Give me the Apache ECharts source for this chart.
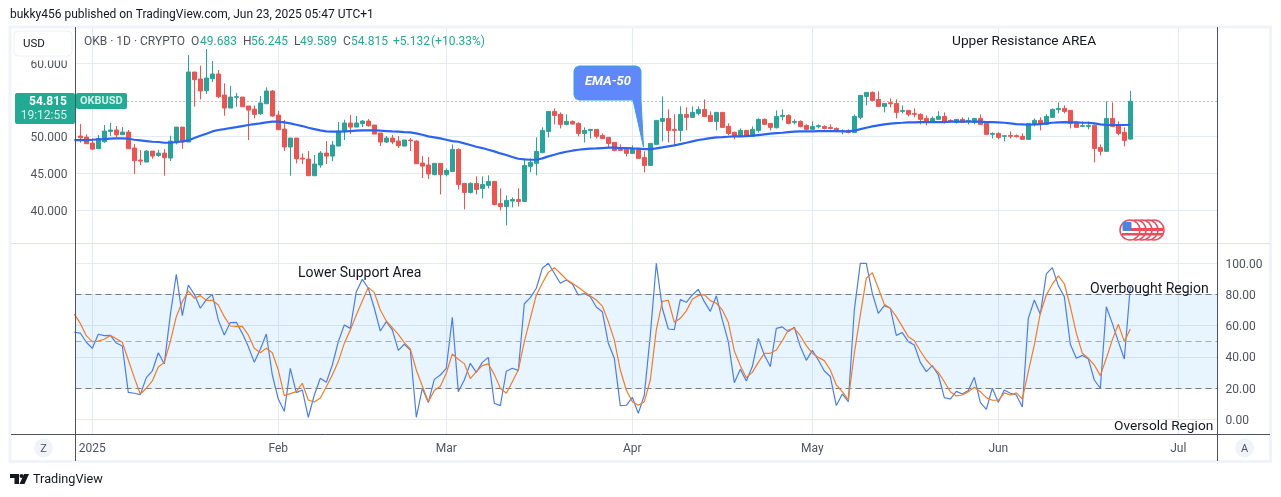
<!DOCTYPE html>
<html>
<head>
<meta charset="utf-8">
<title>OKBUSD</title>
<script src="https://cdn.jsdelivr.net/npm/echarts@6/dist/echarts.min.js"></script>
<style>
html, body { margin: 0; padding: 0; background: #fff; overflow: hidden; }
#main { width: 1281px; height: 497px; }
</style>
</head>
<body>
<div id="main"></div>
<script>
// days are counted from Jan 1 2025, candles start on Dec 30 (-2)
var firstCandleDay = -2;
var firstLineDay = -3;

var monthDays = [0, 31, 59, 90, 120, 151, 181];
var monthLabels = ['2025', 'Feb', 'Mar', 'Apr', 'May', 'Jun', 'Jul'];
var priceTicks = [40, 45, 50, 60];
var rsiTicks = [0, 20, 40, 60, 80, 100];
var lastClose = 54.815;

var opens = [
    50.09, 49.95, 49.14, 48.37, 49.32, 50.72, 50.91, 50.27, 50.63, 48.46,
    46.83, 46.56, 48.05, 47.46, 47.78, 47.10, 49.18, 51.31, 49.28, 58.79,
    57.84, 56.25, 57.88, 58.52, 55.66, 53.90, 55.35, 55.39, 54.17, 53.76,
    53.13, 54.48, 56.21, 52.94, 51.04, 48.60, 49.82, 47.10, 46.96, 44.70,
    46.15, 47.78, 47.37, 48.73, 50.68, 51.86, 51.31, 51.77, 52.13, 51.59,
    50.50, 49.28, 49.82, 49.41, 48.73, 49.55, 49.41, 46.42, 46.15, 44.88,
    46.38, 44.88, 45.29, 48.28, 43.66, 42.43, 43.66, 42.98, 43.39, 43.93,
    40.94, 40.53, 41.26, 41.48, 41.21, 45.97, 46.38, 47.87, 50.72, 53.44,
    53.04, 51.68, 52.08, 51.81, 50.45, 50.86, 51.00, 50.18, 49.91, 49.23,
    48.28, 48.28, 47.73, 48.28, 47.19, 46.10, 48.96, 52.08, 52.49, 51.00,
    50.86, 53.04, 52.63, 53.17, 53.71, 52.90, 52.08, 53.31, 51.40, 50.59,
    50.05, 50.86, 50.05, 50.86, 52.36, 51.81, 51.22, 52.76, 52.90, 51.95,
    52.08, 51.54, 51.00, 51.36, 51.40, 51.27, 51.13, 50.77, 50.86, 50.59,
    52.63, 55.48, 56.02, 55.07, 54.12, 54.62, 54.53, 53.44, 53.58, 53.17,
    53.04, 52.49, 51.95, 52.36, 52.76, 52.22, 51.95, 52.36, 52.08, 51.95,
    52.49, 51.81, 50.32, 50.45, 50.05, 50.18, 50.14, 50.05, 49.64, 51.68,
    52.22, 51.68, 52.63, 53.67, 53.85, 53.58, 51.95, 51.40, 51.40, 51.54,
    48.55, 48.01, 52.49, 51.54, 50.59, 49.683
];
var highs = [
    51.72, 50.32, 49.77, 50.23, 51.59, 51.90, 51.45, 51.31, 50.91, 49.00,
    48.19, 48.19, 48.05, 48.23, 48.32, 50.14, 51.31, 51.31, 61.10, 58.79,
    59.65, 61.91, 60.28, 59.06, 57.25, 56.89, 55.93, 55.39, 54.17, 54.26,
    55.53, 56.70, 56.34, 53.49, 52.27, 49.82, 49.82, 47.73, 48.05, 47.51,
    48.05, 49.41, 49.41, 51.99, 52.31, 52.94, 52.81, 52.27, 52.40, 51.59,
    50.50, 50.09, 50.23, 50.09, 49.55, 49.82, 49.50, 47.37, 47.24, 46.38,
    46.38, 45.70, 48.96, 48.41, 43.66, 43.79, 44.61, 44.61, 44.75, 43.93,
    42.98, 42.03, 41.76, 42.98, 47.06, 47.06, 49.91, 51.27, 53.44, 53.85,
    53.31, 53.04, 52.22, 51.95, 51.27, 51.00, 51.00, 50.45, 49.91, 49.23,
    48.96, 48.55, 48.82, 48.41, 48.01, 49.09, 52.22, 55.48, 53.71, 53.04,
    54.12, 53.99, 54.12, 54.12, 55.07, 53.44, 53.31, 53.31, 51.81, 50.72,
    51.13, 50.86, 51.40, 52.49, 52.49, 51.81, 53.58, 53.71, 53.04, 52.36,
    52.22, 51.68, 52.08, 51.68, 51.54, 51.68, 51.27, 51.00, 51.00, 53.04,
    55.62, 56.02, 56.16, 56.16, 54.53, 55.21, 55.07, 54.26, 53.58, 53.85,
    53.17, 52.90, 52.76, 53.44, 53.31, 52.36, 52.36, 52.63, 52.63, 52.49,
    53.04, 51.95, 50.59, 50.59, 50.14, 50.72, 50.32, 50.45, 51.81, 52.49,
    52.63, 53.04, 53.85, 54.67, 54.26, 53.58, 52.08, 52.08, 52.08, 51.68,
    48.96, 54.80, 54.67, 52.08, 51.27, 56.245
];
var lows = [
    49.18, 49.05, 48.19, 48.37, 49.18, 50.09, 49.91, 50.27, 48.37, 44.93,
    46.15, 46.56, 47.01, 47.24, 44.70, 46.69, 48.96, 48.37, 49.28, 54.08,
    55.07, 55.80, 57.43, 55.25, 52.85, 53.90, 54.08, 54.08, 49.55, 52.49,
    52.94, 54.48, 52.72, 50.91, 48.05, 44.70, 46.38, 46.29, 44.70, 44.70,
    45.79, 46.29, 46.69, 48.73, 49.55, 50.36, 51.31, 51.31, 51.36, 50.36,
    48.73, 49.14, 49.00, 48.46, 48.73, 48.05, 46.33, 44.38, 44.25, 44.75,
    42.16, 44.61, 45.29, 42.84, 40.12, 42.30, 42.16, 41.62, 42.98, 40.67,
    39.99, 37.95, 40.40, 40.53, 41.21, 45.15, 44.75, 47.73, 49.91, 51.68,
    51.13, 51.54, 51.68, 50.05, 49.23, 49.77, 49.77, 49.77, 48.41, 48.01,
    48.14, 47.33, 47.73, 47.06, 45.15, 46.10, 48.96, 49.37, 49.23, 48.82,
    49.37, 50.86, 52.63, 52.90, 52.76, 52.08, 50.86, 51.27, 50.18, 49.64,
    50.05, 50.05, 50.05, 50.59, 51.68, 50.86, 51.13, 52.22, 51.68, 51.68,
    51.27, 50.86, 51.00, 51.13, 51.00, 51.00, 50.59, 50.32, 50.45, 50.59,
    52.36, 54.26, 54.80, 54.12, 53.31, 53.99, 52.49, 53.17, 52.76, 52.63,
    51.68, 51.54, 51.95, 52.36, 51.81, 51.95, 51.81, 51.95, 51.68, 51.68,
    51.68, 50.32, 49.77, 49.64, 49.37, 49.77, 49.91, 49.64, 49.64, 51.40,
    50.86, 51.68, 52.63, 53.17, 53.17, 51.13, 51.27, 51.40, 51.00, 46.51,
    47.46, 48.01, 51.40, 50.18, 48.69, 49.589
];
var closes = [
    49.86, 49.05, 48.32, 49.77, 50.77, 50.91, 50.27, 50.63, 48.37, 46.74,
    46.69, 48.05, 47.37, 47.78, 47.15, 49.41, 51.31, 49.28, 58.79, 57.75,
    56.21, 57.97, 58.52, 55.44, 53.90, 55.39, 55.44, 54.08, 53.62, 53.04,
    54.58, 56.21, 52.81, 50.95, 48.60, 49.82, 47.01, 46.96, 44.70, 46.29,
    47.78, 47.37, 48.87, 50.77, 51.86, 51.31, 51.86, 52.13, 51.49, 50.36,
    49.28, 49.82, 49.28, 48.78, 49.55, 49.46, 46.33, 46.01, 44.93, 46.38,
    44.88, 45.42, 48.28, 43.52, 42.43, 43.66, 42.84, 43.52, 43.93, 40.80,
    40.53, 41.35, 41.48, 41.21, 46.10, 46.51, 48.01, 50.86, 53.44, 52.90,
    51.68, 52.08, 51.72, 50.45, 50.86, 51.00, 50.05, 49.77, 49.09, 48.14,
    48.14, 47.73, 48.28, 47.06, 46.10, 49.09, 52.22, 52.49, 50.86, 50.86,
    53.04, 52.63, 53.31, 53.71, 52.76, 52.08, 53.31, 51.27, 50.45, 50.05,
    50.86, 50.05, 51.00, 52.36, 51.68, 51.27, 52.76, 52.90, 51.81, 52.08,
    51.40, 51.00, 51.40, 51.50, 51.13, 51.13, 50.72, 50.86, 50.59, 52.76,
    55.62, 56.02, 54.94, 54.12, 54.53, 54.48, 53.31, 53.58, 53.04, 53.04,
    52.36, 51.95, 52.49, 52.76, 51.95, 52.04, 52.36, 51.95, 52.22, 52.49,
    51.68, 50.32, 50.45, 49.91, 50.14, 50.05, 50.00, 49.64, 51.81, 52.22,
    51.68, 52.76, 53.71, 53.85, 53.44, 51.81, 51.27, 51.50, 51.54, 48.41,
    48.01, 52.49, 51.40, 50.45, 49.50, 54.815
];

// EMA-50, starts one day before the first candle
var emaValues = [
    49.55, 49.55, 49.55, 49.59, 49.64, 49.68, 49.73, 49.77, 49.77, 49.73,
    49.59, 49.50, 49.41, 49.32, 49.28, 49.18, 49.18, 49.28, 49.37, 49.50,
    49.82, 50.14, 50.41, 50.72, 50.91, 51.04, 51.18, 51.31, 51.45, 51.59,
    51.72, 51.81, 51.95, 52.04, 52.04, 51.95, 51.81, 51.63, 51.45, 51.22,
    51.04, 50.86, 50.72, 50.68, 50.68, 50.72, 50.77, 50.82, 50.86, 50.86,
    50.86, 50.82, 50.77, 50.72, 50.68, 50.63, 50.59, 50.45, 50.27, 50.05,
    49.91, 49.77, 49.59, 49.41, 49.32, 49.09, 48.87, 48.64, 48.46, 48.23,
    48.01, 47.73, 47.51, 47.24, 47.01, 46.92, 46.87, 46.87, 47.06, 47.33,
    47.55, 47.78, 47.96, 48.10, 48.23, 48.32, 48.37, 48.41, 48.46, 48.51,
    48.51, 48.46, 48.46, 48.41, 48.37, 48.32, 48.32, 48.41, 48.55, 48.69,
    48.82, 49.00, 49.18, 49.37, 49.55, 49.68, 49.82, 49.91, 49.95, 50.00,
    50.05, 50.05, 50.09, 50.14, 50.23, 50.32, 50.41, 50.50, 50.54, 50.63,
    50.68, 50.72, 50.72, 50.72, 50.77, 50.77, 50.77, 50.77, 50.72, 50.72,
    50.82, 51.04, 51.22, 51.40, 51.54, 51.68, 51.77, 51.86, 51.90, 51.95,
    51.95, 51.99, 51.99, 51.99, 51.99, 51.99, 52.04, 52.04, 52.04, 52.04,
    52.04, 52.04, 51.99, 51.99, 51.95, 51.90, 51.81, 51.72, 51.68, 51.63,
    51.68, 51.72, 51.81, 51.90, 51.95, 51.99, 51.95, 51.95, 51.90, 51.90,
    51.81, 51.68, 51.59, 51.59, 51.59, 51.59, 51.63
];

var rsiValues = [
    55.8, 55.3, 49.4, 45.5, 54.5, 53.6, 53.8, 48.9, 47.0, 17.3,
    16.7, 15.8, 26.7, 31.0, 42.7, 35.5, 66.9, 93.0, 66.5, 86.1,
    80.1, 71.2, 76.7, 80.1, 63.7, 54.1, 62.0, 62.2, 55.1, 46.6,
    36.5, 44.9, 54.7, 28.4, 13.0, 5.1, 32.7, 17.1, 18.8, 1.3,
    15.6, 26.3, 23.7, 34.8, 49.8, 60.5, 58.3, 81.8, 89.7, 84.0,
    71.2, 56.6, 62.6, 57.3, 44.2, 48.1, 44.4, 1.3, 19.9, 10.7,
    25.6, 28.4, 32.7, 65.4, 17.7, 25.2, 35.9, 30.1, 36.5, 39.7,
    10.3, 8.8, 30.8, 32.7, 31.4, 74.1, 78.0, 84.0, 96.8, 100,
    93.6, 87.2, 89.3, 86.8, 79.7, 80.6, 78.6, 72.0, 69.0, 48.7,
    39.1, 8.8, 9.0, 14.1, 3.8, 15.6, 54.1, 100, 71.2, 57.9,
    57.5, 76.7, 75.0, 79.7, 83.3, 75.4, 69.2, 79.1, 63.7, 49.8,
    23.5, 32.1, 24.6, 33.8, 51.9, 41.2, 33.8, 58.3, 59.2, 56.2,
    59.0, 46.6, 37.8, 44.2, 38.0, 31.0, 27.4, 8.8, 16.2, 11.3,
    70.1, 100, 100, 80.8, 67.9, 72.9, 71.2, 53.8, 55.6, 49.8,
    47.6, 36.5, 30.6, 34.4, 28.4, 13.9, 13.0, 17.9, 16.2, 18.4,
    26.9, 10.9, 6.4, 19.9, 10.9, 18.8, 16.7, 15.6, 7.9, 64.7,
    76.5, 67.3, 93.2, 97.2, 85.7, 78.6, 48.1, 39.1, 41.0, 38.7,
    25.2, 19.9, 72.2, 61.5, 49.8, 38.7, 85.0
];

var rsiAvgValues = [
    67.5, 61.5, 53.6, 49.8, 50.2, 51.3, 53.8, 51.7, 49.4, 38.0,
    26.7, 16.2, 19.9, 24.6, 33.5, 36.5, 49.8, 65.8, 75.4, 82.3,
    77.6, 79.3, 76.3, 76.3, 73.3, 65.8, 59.8, 59.6, 59.6, 54.1,
    45.5, 42.7, 45.5, 42.7, 31.6, 15.2, 16.5, 17.7, 23.1, 12.4,
    11.1, 13.7, 20.9, 28.4, 37.0, 48.7, 57.3, 66.9, 75.9, 84.6,
    81.2, 70.1, 63.0, 58.8, 54.5, 49.1, 45.1, 31.6, 21.4, 11.3,
    18.4, 21.2, 29.5, 41.9, 38.5, 35.7, 26.1, 30.6, 34.4, 35.5,
    28.8, 19.9, 16.7, 24.1, 31.6, 49.8, 64.7, 79.7, 87.2, 94.2,
    97.2, 93.6, 89.7, 87.2, 84.6, 81.8, 79.1, 76.5, 72.6, 62.6,
    50.9, 31.6, 18.8, 11.3, 9.0, 11.3, 25.2, 57.3, 75.6, 76.3,
    62.2, 64.7, 69.5, 76.9, 79.3, 79.9, 76.1, 74.4, 70.1, 62.2,
    43.8, 34.4, 26.7, 30.1, 36.5, 42.3, 42.3, 44.4, 50.4, 57.3,
    58.3, 53.6, 47.2, 42.3, 39.7, 37.6, 31.6, 22.0, 17.7, 12.4,
    42.3, 66.9, 90.4, 94.0, 84.0, 73.7, 71.2, 65.8, 59.4, 53.0,
    50.4, 43.8, 38.0, 33.8, 30.1, 24.1, 17.7, 15.0, 15.6, 17.7,
    20.5, 17.7, 13.9, 12.2, 12.2, 16.9, 15.6, 16.9, 13.0, 30.6,
    47.7, 68.0, 79.7, 86.6, 92.0, 86.9, 72.3, 55.2, 42.3, 39.1,
    34.8, 28.0, 39.1, 50.9, 60.9, 49.8, 57.9
];

var legendTexts = [
    ['OKB · 1D · CRYPTO', 84, '#50535e'],
    ['O', 191, '#50535e'], ['49.683', 200, '#22ab94'],
    ['H', 243, '#50535e'], ['56.245', 251, '#22ab94'],
    ['L', 294, '#50535e'], ['49.589', 300, '#22ab94'],
    ['C', 343, '#50535e'], ['54.815', 351, '#22ab94'],
    ['+5.132', 393, '#22ab94'], ['(+10.33%)', 431, '#22ab94']
];

var UI_FONT = 'Roboto, "Noto Sans", sans-serif';

function label(text, x, y, font, fill, align) {
    return {
        type: 'text', x: x, y: y, z: 120, silent: true,
        style: { text: text, font: font, fill: fill, textAlign: align || 'left', textVerticalAlign: 'middle' }
    };
}

function hline(x1, x2, y, color, width) {
    return { type: 'line', z: 110, silent: true, shape: { x1: x1, y1: y, x2: x2, y2: y }, style: { stroke: color, lineWidth: width || 1 } };
}

function vline(x, y1, y2, color) {
    return { type: 'line', z: 110, silent: true, shape: { x1: x, y1: y1, x2: x, y2: y2 }, style: { stroke: color, lineWidth: 1 } };
}

function buildGraphics() {
    var els = [];

    // frame around the chart
    els.push({ type: 'rect', z: 1, silent: true, shape: { x: 10, y: 27, width: 1260.5, height: 434.5 }, style: { fill: 'none', stroke: '#f0f3fa', lineWidth: 3 } });
    els.push(hline(11, 1270, 243.5, '#e0e3eb'));
    els.push(hline(11, 1270, 434.5, '#50535e'));
    els.push(vline(75.5, 27, 461, '#50535e'));
    els.push(vline(1217.5, 27, 461, '#50535e'));

    // top of the 60.000 label is hidden by the legend strip
    els.push({ type: 'rect', z: 105, silent: true, shape: { x: 12, y: 29, width: 63, height: 31.5 }, style: { fill: '#fff' } });

    els.push(label('bukky456 published on TradingView.com, Jun 23, 2025 05:47 UTC+1', 10, 15, '12px ' + UI_FONT, '#131722'));

    // USD button
    els.push({ type: 'rect', z: 110, silent: true, shape: { x: 14, y: 31, width: 58, height: 25, r: 4 }, style: { fill: '#fff', stroke: '#eef0f3', lineWidth: 1 } });
    els.push(label('USD', 23, 44.5, '11.5px ' + UI_FONT, '#131722'));

    legendTexts.forEach(function (item) {
        els.push(label(item[0], item[1], 42, '12px ' + UI_FONT, item[2]));
    });

    // last price tags
    els.push({ type: 'rect', z: 110, silent: true, shape: { x: 15, y: 93, width: 60, height: 31, r: 2 }, style: { fill: '#22ab94' } });
    els.push({ type: 'rect', z: 110, silent: true, shape: { x: 76, y: 93, width: 51, height: 16, r: 2 }, style: { fill: '#22ab94' } });
    els.push(label('54.815', 67, 101.5, 'bold 12px ' + UI_FONT, '#fff', 'right'));
    els.push(label('19:12:55', 67, 116, '12px ' + UI_FONT, '#d3eee9', 'right'));
    els.push(label('OKBUSD', 80, 101.5, 'bold 11px ' + UI_FONT, '#d3eee9'));

    // drawing notes
    els.push(label('Upper Resistance AREA', 952, 41.5, '13.7px ' + UI_FONT, '#131722'));
    els.push(label('Lower Support Area', 298, 273.5, '14px ' + UI_FONT, '#131722'));
    els.push(label('Overbought Region', 1090, 289.5, '14px ' + UI_FONT, '#131722'));
    els.push(label('Oversold Region', 1114, 426.5, '13.7px ' + UI_FONT, '#131722'));

    // EMA-50 callout
    els.push({
        type: 'polygon', z: 115, silent: true,
        shape: {
            points: [[579, 66], [636, 66], [639.5, 67.5], [641, 71], [641, 100], [643.5, 147], [633, 100],
                [579, 100], [575.5, 98.5], [574, 95], [574, 71], [575.5, 67.5]]
        },
        style: { fill: '#5e88fb', stroke: '#3aa3d9', lineWidth: 1 }
    });
    els.push(label('EMA-50', 608, 82, 'italic bold 13px ' + UI_FONT, '#fff', 'center'));

    // economic event badge
    var cx = [1154, 1148, 1142, 1136, 1130];
    cx.forEach(function (x, i) {
        var g = i * 0.1;
        els.push({ type: 'circle', z: 112 + g, silent: true, shape: { cx: x, cy: 230, r: 10 }, style: { fill: '#fff', stroke: '#ef4a5a', lineWidth: 1.5 } });
        els.push({ type: 'rect', z: 112 + g + 0.01, silent: true, shape: { x: x + 1, y: 228, width: 8, height: 3 }, style: { fill: '#ef4a5a' } });
        els.push({ type: 'rect', z: 112 + g + 0.01, silent: true, shape: { x: x - 8, y: 233, width: 17, height: 2.5 }, style: { fill: '#ef4a5a' } });
    });
    els.push({ type: 'rect', z: 113, silent: true, shape: { x: 1122.5, y: 222, width: 9, height: 9, r: 1 }, style: { fill: '#4a86dc' } });

    // Z and A buttons
    els.push({ type: 'circle', z: 110, silent: true, shape: { cx: 43.5, cy: 448, r: 9.5 }, style: { fill: '#f0f3fa' } });
    els.push(label('Z', 43.5, 449, '11px ' + UI_FONT, '#50535e', 'center'));
    els.push({ type: 'circle', z: 110, silent: true, shape: { cx: 1244.5, cy: 448, r: 9.5 }, style: { fill: '#f0f3fa' } });
    els.push(label('A', 1244.5, 449, '11px ' + UI_FONT, '#50535e', 'center'));

    // TradingView mark
    els.push({ type: 'polygon', z: 110, silent: true, shape: { points: [[10, 474], [19, 474], [19, 484], [14.5, 484], [14.5, 478], [10, 478]] }, style: { fill: '#131722' } });
    els.push({ type: 'circle', z: 110, silent: true, shape: { cx: 21.5, cy: 476, r: 2 }, style: { fill: '#131722' } });
    els.push({ type: 'polygon', z: 110, silent: true, shape: { points: [[24, 474], [29, 474], [24.5, 484], [19.5, 484]] }, style: { fill: '#131722' } });
    els.push(label('TradingView', 33, 480, '12.7px ' + UI_FONT, '#131722'));

    return els;
}

var candleData = opens.map(function (o, i) {
    return [firstCandleDay + i, o, closes[i], lows[i], highs[i]];
});

function toLine(values) {
    return values.map(function (v, i) {
        return [firstLineDay + i, v];
    });
}

var gridColor = '#e3ebf3';
var axisTextColor = '#50535e';

var myChart = echarts.init(document.getElementById('main'), null, { renderer: 'canvas' });

var option = {
    animation: false,
    backgroundColor: '#fff',
    textStyle: { fontFamily: UI_FONT },
    grid: [
        { left: 75.5, right: 63.5, top: 27.5, height: 215.8 },
        { left: 75.5, right: 63.5, top: 243.5, height: 190.5 }
    ],
    xAxis: [
        {
            type: 'value', gridIndex: 0, min: -2.8, max: 187.53,
            axisLine: { show: false },
            axisTick: { show: false, customValues: monthDays },
            axisLabel: { show: false, customValues: monthDays },
            splitLine: { show: true, lineStyle: { color: gridColor, width: 1 } }
        },
        {
            type: 'value', gridIndex: 1, min: -2.8, max: 187.53,
            axisLine: { show: false },
            axisTick: { show: false, customValues: monthDays },
            axisLabel: {
                customValues: monthDays, color: axisTextColor, fontSize: 12, margin: 9,
                hideOverlap: false, showMinLabel: true, showMaxLabel: true,
                formatter: function (v) { return monthLabels[monthDays.indexOf(v)]; }
            },
            splitLine: { show: true, lineStyle: { color: gridColor, width: 1 } }
        }
    ],
    yAxis: [
        {
            type: 'value', gridIndex: 0, position: 'left', min: 35.52, max: 64.84,
            axisLine: { show: false },
            axisTick: { show: false, customValues: priceTicks },
            axisLabel: {
                customValues: priceTicks, color: axisTextColor, fontSize: 12, margin: 8,
                verticalAlign: 'top', lineHeight: 3,
                formatter: function (v) { return v.toFixed(3); }
            },
            splitLine: { show: true, lineStyle: { color: gridColor, width: 1 } }
        },
        {
            type: 'value', gridIndex: 1, position: 'right', min: -9.42, max: 112.7,
            axisLine: { show: false },
            axisTick: { show: false, customValues: rsiTicks },
            axisLabel: {
                customValues: rsiTicks, color: axisTextColor, fontSize: 12, margin: 8,
                verticalAlign: 'top', lineHeight: 3,
                formatter: function (v) { return v.toFixed(2); }
            },
            splitLine: { show: true, lineStyle: { color: gridColor, width: 1 } }
        }
    ],
    series: [
        {
            name: 'OKBUSD', type: 'candlestick', xAxisIndex: 0, yAxisIndex: 0,
            data: candleData,
            encode: { x: 0, y: [1, 2, 3, 4] },
            barWidth: 4,
            itemStyle: { color: '#26a69a', color0: '#ef5350', borderColor: '#26a69a', borderColor0: '#ef5350', borderWidth: 1 },
            markLine: {
                silent: true, symbol: 'none', label: { show: false },
                data: [{ yAxis: lastClose, lineStyle: { color: '#22ab94', type: [1, 3], width: 1, opacity: 1 } }]
            }
        },
        {
            name: 'EMA-50', type: 'line', xAxisIndex: 0, yAxisIndex: 0,
            data: toLine(emaValues), showSymbol: false, smooth: false, z: 3,
            lineStyle: { color: '#2b63f6', width: 2.2 }
        },
        {
            name: 'RSI', type: 'line', xAxisIndex: 1, yAxisIndex: 1,
            data: toLine(rsiValues), showSymbol: false, z: 4,
            lineStyle: { color: '#4a7df5', width: 1.2 },
            markArea: {
                silent: true,
                itemStyle: { color: 'rgba(33, 150, 243, 0.1)' },
                data: [[{ yAxis: 80 }, { yAxis: 20 }]]
            },
            markLine: {
                silent: true, symbol: 'none', label: { show: false },
                data: [
                    { yAxis: 80, lineStyle: { color: '#787b86', type: [6, 4], width: 1 } },
                    { yAxis: 50, lineStyle: { color: '#a8abb3', type: [6, 4], width: 1 } },
                    { yAxis: 20, lineStyle: { color: '#787b86', type: [6, 4], width: 1 } }
                ]
            }
        },
        {
            name: 'RSI MA', type: 'line', xAxisIndex: 1, yAxisIndex: 1,
            data: toLine(rsiAvgValues), showSymbol: false, z: 5,
            lineStyle: { color: '#f57c22', width: 1.2 }
        }
    ],
    graphic: { elements: buildGraphics() }
};

myChart.setOption(option);
</script>
</body>
</html>
